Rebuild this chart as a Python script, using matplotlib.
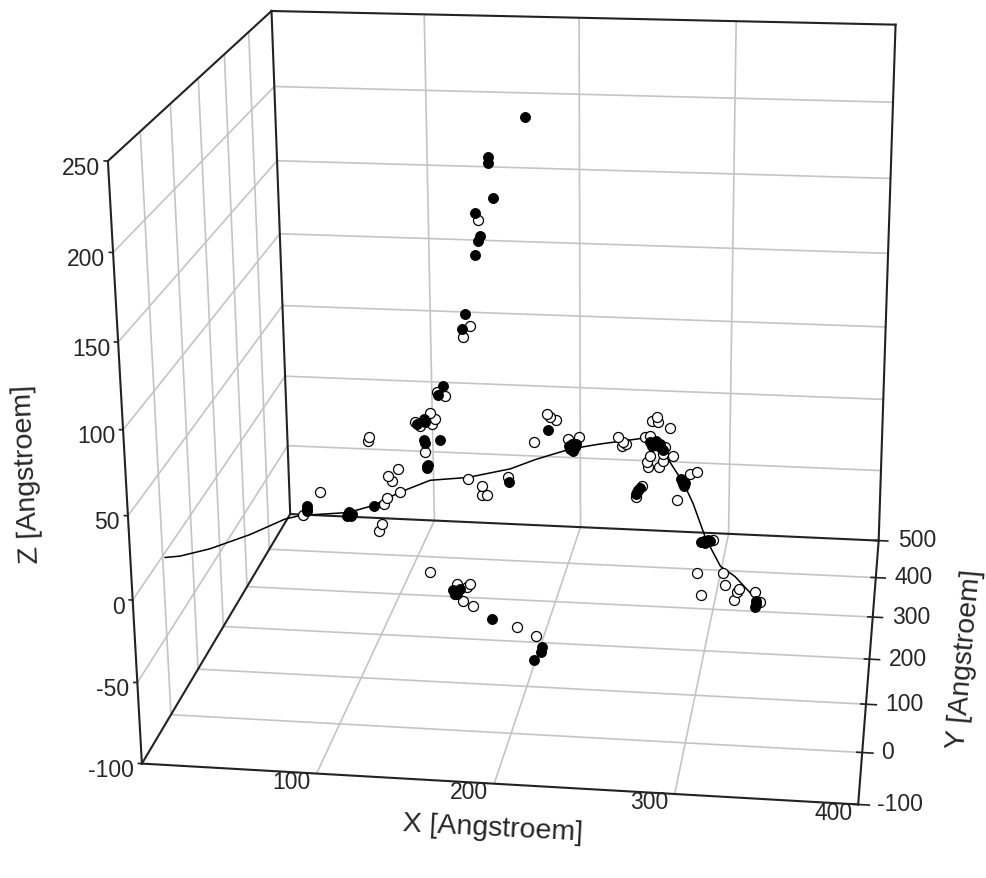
"""3D scatter of point positions in Angstroem with a backbone line."""
import matplotlib
matplotlib.use("Agg")
import matplotlib.pyplot as plt
from mpl_toolkits.mplot3d import proj3d

W, H = 986, 879

# solid points
filled_x = [128.0, 117.9, 113.4, 117.6, 127.7, 119.1, 41.3, 41.1, 67.6, 69.5, 84.6, 171.1, 196.0, 211.0,
            209.7, 212.8, 262.8, 259.7, 265.9, 280.4, 279.7, 251.7, 253.6, 292.6, 295.7, 297.6, 334.0, 333.5,
            181.4, 158.5, 158.4, 161.2, 149.9, 152.8, 151.6, 149.6, 142.7, 140.7, 164.0, 163.4, 183.7, 212.8,
            212.2, 208.1,
            293.6, 294.6, 296.6, 291.8, 281.0, 279.0, 281.5, 211.5, 209.0, 213.5, 263.5, 266.0, 261.0, 268.0,
            68.5, 70.5, 67.0, 41.0, 252.5, 251.0, 118.5, 118.0, 120.0, 119.0, 127.0,
            334.0, 165.0, 162.0, 161.0]
filled_y = [320] + [300] * 25 + [120] * 2 + [320] * 10 + [60] * 6 + [300] * 25 + [120] + [60] * 3
filled_z = [37.8, 19.9, 16.4, 5.9, 6.4, -11.5, -42.2, -45.6, -46.4, -47.7, -40.1, -19.9, 16.0, 7.3,
            4.0, 5.4, 9.6, 10.8, 7.8, -16.2, -14.2, -22.9, -20.1, -54.5, -53.7, -53.6, -43.3, -47.2,
            212.7, 187.0, 183.2, 161.2, 151.3, 136.7, 133.5, 124.4, 85.9, 76.0, -29.5, -31.4, -46.1, -62.3,
            -65.5, -70.8,
            -54.0, -54.8, -53.2, -54.8, -17.5, -13.0, -15.5, 2.5, 6.0, 7.5, 11.5, 10.0, 8.5, 6.0,
            -45.0, -46.5, -48.0, -44.0, -21.5, -24.0, 18.0, 4.0, -10.5, -13.0, 36.0,
            -45.0, -28.0, -31.5, -29.0]

# hollow points
open_x = [124.1, 129.2, 121.7, 124.8, 122.9, 115.2, 112.1, 118.1, 82.6, 81.9, 100.6, 94.1, 96.5, 101.5,
          93.1, 91.0, 50.0, 38.4, 89.4, 87.4, 145.1, 153.9, 153.9, 157.0, 170.5, 195.4, 197.3, 201.0,
          187.1, 215.4, 208.5, 239.7, 242.8, 244.7, 242.2, 263.9, 260.8, 264.5, 272.0, 256.5, 259.6, 269.0,
          267.8, 274.0, 259.7, 258.5, 265.3, 267.8, 257.8, 289.0, 284.7, 276.7, 254.8, 251.1, 299.5, 299.2,
          301.7, 314.5, 315.7, 323.9, 322.8, 321.1, 333.3, 336.3, 151.7, 145.8, 141.2, 147.7, 163.5, 171.1,
          169.3, 172.6, 166.8, 162.2, 198.3, 209.4]
open_y = [320] * 2 + [300] * 53 + [120] * 9 + [320] * 3 + [60] * 9
open_z = [33.7, 31.2, 24.1, 20.2, 16.8, 15.2, 17.7, -2.1, 6.4, 3.7, -14.3, -19.3, -22.6, -29.8,
          -34.3, -38.5, -32.2, -48.5, -52.2, -57.1, -19.0, -23.4, -29.4, -29.3, -16.5, 26.5, 24.6, 22.8,
          7.6, 12.2, 10.5, 13.2, 10.1, 8.8, 7.4, 27.5, 24.7, 24.2, 20.6, 14.0, 14.8, 7.9,
          3.2, 2.2, 1.5, -5.8, -5.5, -1.4, -2.5, -7.8, -9.3, -27.0, -18.7, -26.2, -52.9, -27.3,
          -41.1, -26.5, -34.0, -36.2, -38.1, -43.3, -37.6, -43.8, 146.9, 78.1, 70.7, -18.3, -25.1, -24.7,
          -26.7, -38.5, -35.6, -31.4, -50.4, -55.5]

# backbone line
line_x = [2, 2, 2, 2, 2, 19, 57, 79, 99, 121, 145, 172, 188, 210, 228, 244, 260, 269, 282, 289, 300, 311, 321, 333]
line_y = [-3, 46, 152, 309, 462, 420, 380, 340, 320, 300, 300, 300, 300, 300, 300, 300, 300, 300, 280, 260, 200, 160, 130, 120]
line_z = [0, -12, -35, -66, -94, -80, -66, -50, -35, -21, -18, -11, -4, 4, 8, 11, 14, 3, -11, -19, -26, -33, -31, -41]

x_ticks = [100, 200, 300, 400]
y_ticks = [-100, 0, 100, 200, 300, 400, 500]
z_ticks = [-100, -50, 0, 50, 100, 150, 200, 250]

X0, X1 = 0, 400
Y0, Y1 = -100, 500
Z0, Z1 = -100, 250

TEXT = "#262626"
plt.rcParams["font.family"] = ["Liberation Sans", "DejaVu Sans"]
plt.rcParams["grid.color"] = "#c4c4c4"
plt.rcParams["grid.linewidth"] = 1.2

fig = plt.figure(figsize=(W / 100, H / 100), dpi=100)
ax = fig.add_axes([-0.00945, -0.05072, 1.08418, 1.21615], projection="3d")
ax.computed_zorder = False
ax.patch.set_visible(False)
ax.set_xlim(X0, X1, view_margin=0)
ax.set_ylim(Y0, Y1, view_margin=0)
ax.set_zlim(Z0, Z1, view_margin=0)
ax.view_init(18.8531, -81.9517, 0.4274)
ax.set_proj_type("persp", focal_length=0.5066)
ax.set_box_aspect((1.1472, 1.0976, 1.0))

ax.set_xticks(x_ticks[:-1])
ax.set_yticks(y_ticks[1:-1])
ax.set_zticks(z_ticks[1:-1])
ax.set_xticklabels([])
ax.set_yticklabels([])
ax.set_zticklabels([])
for axis in (ax.xaxis, ax.yaxis, ax.zaxis):
    axis.set_pane_color((1, 1, 1, 0))
    axis.pane.set_edgecolor("none")
    axis.line.set_color((0, 0, 0, 0))
    axis._axinfo["tick"].update(inward_factor=0, outward_factor=0)
    axis._axinfo["grid"].update(color="#c4c4c4", linewidth=1.2)

# box edges
edges = [
    ((X0, X1), (Y0, Y0), (Z0, Z0)), ((X1, X1), (Y0, Y1), (Z0, Z0)),
    ((X0, X1), (Y1, Y1), (Z0, Z0)), ((X0, X0), (Y0, Y1), (Z0, Z0)),
    ((X0, X0), (Y0, Y0), (Z0, Z1)), ((X0, X0), (Y1, Y1), (Z0, Z1)),
    ((X1, X1), (Y1, Y1), (Z0, Z1)), ((X0, X0), (Y0, Y1), (Z1, Z1)),
    ((X0, X1), (Y1, Y1), (Z1, Z1)),
]
for ex, ey, ez in edges:
    ax.plot(ex, ey, ez, color="#222222", linewidth=1.5, zorder=2)

for y in y_ticks:
    ax.plot((X1 - 3, X1 + 6), (y, y), (Z0, Z0), color="#222222", linewidth=1.2, zorder=2)
for z in z_ticks:
    ax.plot((X0, X0 - 2), (Y0, Y0), (z, z), color="#222222", linewidth=1.2, zorder=2)

ax.plot(line_x, line_y, line_z, color="black", linewidth=1.1, zorder=3)
ax.scatter(open_x, open_y, open_z, s=52, facecolor="white", edgecolor="black", linewidth=0.9,
           depthshade=False, zorder=4)
ax.scatter(filled_x, filled_y, filled_z, s=52, facecolor="black", edgecolor="black", linewidth=0.6,
           depthshade=False, zorder=5)


def tick_label(x, y, z, text, dx, dy, ha):
    px, py, _ = proj3d.proj_transform(x, y, z, ax.get_proj())
    ax.annotate(text, (px, py), xytext=(dx, dy), textcoords="offset pixels", ha=ha, va="center",
                fontsize=16.5, color=TEXT, annotation_clip=False)


for x in x_ticks:
    tick_label(x, Y0, Z0, str(x), -6, -8, "right")
for y in y_ticks:
    tick_label(X1, y, Z0, str(y), 19, 1, "left")
for z in z_ticks:
    tick_label(X0, Y0, z, str(z), -8, -6, "right")

label_size = 20.5
fig.text(493 / W, 1 - 829 / H, "X [Angstroem]", ha="center", va="center", rotation=-3,
         rotation_mode="anchor", fontsize=label_size, color=TEXT)
fig.text(965 / W, 1 - 659 / H, "Y [Angstroem]", ha="center", va="center", rotation=85,
         rotation_mode="anchor", fontsize=label_size, color=TEXT)
fig.text(27 / W, 1 - 474 / H, "Z [Angstroem]", ha="center", va="center", rotation=92.5,
         rotation_mode="anchor", fontsize=label_size, color=TEXT)

fig.savefig("out.png", dpi=100)
